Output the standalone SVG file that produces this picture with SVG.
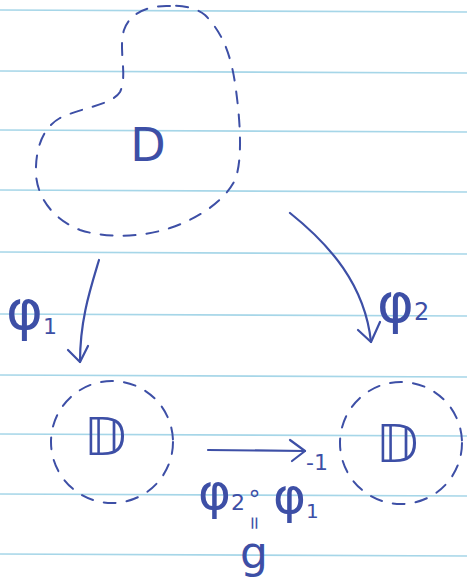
<svg xmlns="http://www.w3.org/2000/svg" width="467" height="580" viewBox="0 0 467 580">
<defs>
<style>
.rule{stroke:#a6d6e8;stroke-width:1.6;fill:none}
.dash{fill:none;stroke:#3d4fa6;stroke-width:2;stroke-dasharray:12 11;stroke-linecap:round}
.ink{fill:none;stroke:#3d4fa6;stroke-width:2.2;stroke-linecap:round;stroke-linejoin:round}
.t{fill:#3d4fa6;font-family:"DejaVu Sans","Liberation Sans",sans-serif}
</style>
</defs>
<rect width="467" height="580" fill="#ffffff"/>
<g id="paper">
<line class="rule" x1="0" y1="10" x2="467" y2="12"/>
<line class="rule" x1="0" y1="71" x2="467" y2="73"/>
<line class="rule" x1="0" y1="130" x2="467" y2="132"/>
<line class="rule" x1="0" y1="190" x2="467" y2="192"/>
<line class="rule" x1="0" y1="252" x2="467" y2="254"/>
<line class="rule" x1="0" y1="314" x2="467" y2="316"/>
<line class="rule" x1="0" y1="375" x2="467" y2="377"/>
<line class="rule" x1="0" y1="434" x2="467" y2="436"/>
<line class="rule" x1="0" y1="494" x2="467" y2="496"/>
<line class="rule" x1="0" y1="554" x2="467" y2="556"/>
</g>
<g id="regionD">
<path class="dash" d="M170,6 C150,5 130,12 124,30 C118,50 128,75 120,92 C112,105 80,108 60,118 C42,128 35,150 36,175 C38,200 55,220 80,230 C105,238 140,238 170,228 C200,218 225,200 235,180 C243,160 240,120 236,90 C232,60 225,35 205,15 C195,7 180,5 170,6 Z"/>
<text class="t" x="148" y="161" font-size="46" text-anchor="middle">D</text>
</g>
<g id="diskLeft">
<circle class="dash" cx="112" cy="442" r="61"/>
<text class="t" x="105" y="455" font-size="52" text-anchor="middle">𝔻</text>
</g>
<g id="diskRight">
<circle class="dash" cx="401" cy="443" r="61"/>
<text class="t" x="397" y="462" font-size="52" text-anchor="middle">𝔻</text>
</g>
<g id="connectors">
<path class="ink" d="M99,260 C90,290 80,320 80,362"/>
<path class="ink" d="M68,350 L80,362 L88,346"/>
<path class="ink" d="M290,213 C330,245 365,285 371,342"/>
<path class="ink" d="M358,330 L371,342 L380,322"/>
<path class="ink" d="M208,450 L305,451"/>
<path class="ink" d="M290,440 L305,451 L292,461"/>
</g>
<g id="labels">
<text class="t" x="6" y="329" font-size="56">φ<tspan font-size="22" dy="5">1</tspan></text>
<text class="t" x="377" y="322" font-size="56">φ<tspan font-size="24" dy="-2">2</tspan></text>
<text class="t" x="198" y="509" font-size="50">φ<tspan font-size="22" dy="1">2</tspan><tspan font-size="24" dx="2" dy="-9">∘</tspan><tspan font-size="50" dx="11" dy="12">φ</tspan><tspan font-size="22" dy="-43">-1</tspan><tspan font-size="20" dx="-22" dy="48">1</tspan></text>
<text class="t" x="0" y="0" font-size="18" transform="translate(249,523) rotate(90)" text-anchor="middle">=</text>
<text class="t" x="254" y="568" font-size="44" text-anchor="middle">g</text>
</g>
</svg>
